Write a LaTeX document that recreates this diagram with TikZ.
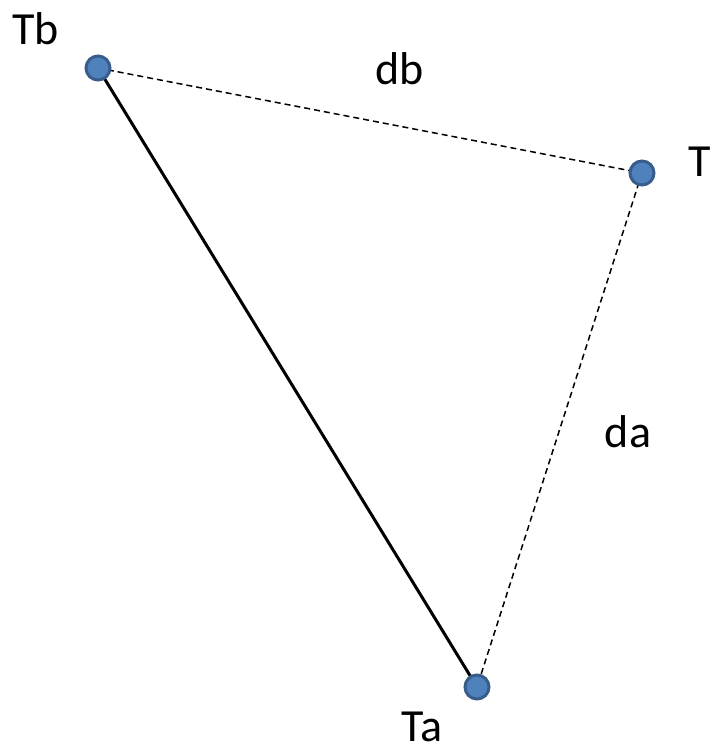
\documentclass[tikz,border=0pt]{standalone}
\usepackage{fontspec}
\setmainfont{Carlito}
\begin{document}
\begin{tikzpicture}[x=1pt,y=-1pt,
  pt/.style={circle,fill={rgb,255:red,79;green,129;blue,189},draw={rgb,255:red,56;green,93;blue,138},line width=3pt,minimum size=24pt,inner sep=0pt,outer sep=0pt},
  lbl/.style={inner sep=0pt,font=\fontsize{46}{55}\selectfont},
  solidline/.style={line width=3pt,black},
  dashline/.style={line width=1.5pt,black,dash pattern=on 6pt off 4pt}]
\useasboundingbox (0,0) rectangle (712,746);
\coordinate (cTb) at (98,68);
\coordinate (cT) at (642,173);
\coordinate (cTa) at (477,687);
\draw[solidline] (cTb) -- (cTa);
\draw[dashline] (cTb) -- (cT);
\draw[dashline] (cT) -- (cTa);
\node[pt] (Tb) at (cTb) {};
\node[pt] (T) at (cT) {};
\node[pt] (Ta) at (cTa) {};
\node[lbl,anchor=base] (lTb) at (35.5,45) {Tb};
\node[lbl,anchor=base west] (lT) at (688,177) {T};
\node[lbl,anchor=base] (ldb) at (400,85) {db};
\node[lbl,anchor=base] (lda) at (628,447) {da};
\node[lbl,anchor=base] (lTa) at (422,741) {Ta};
\end{tikzpicture}
\end{document}
